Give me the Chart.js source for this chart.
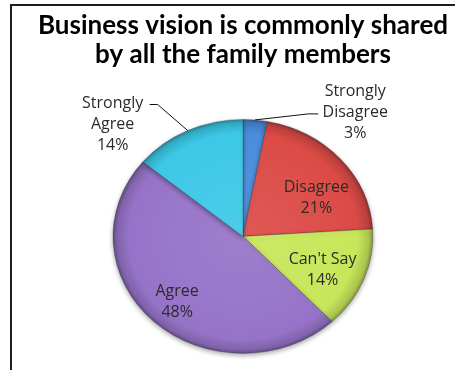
<!DOCTYPE html>
<html>
<head>
<meta charset="utf-8">
<script src="https://cdn.jsdelivr.net/npm/chart.js@4"></script>
<style>
  html, body { margin: 0; padding: 0; background: #fff; }
  #wrap { position: relative; width: 455px; height: 370px; overflow: hidden; }
  #frame { position: absolute; left: 10px; top: 4px; width: 600px; height: 600px;
           border-left: 2px solid #1e1e1e; border-top: 2px solid #1e1e1e; }
  canvas { position: absolute; left: 0; top: 0; }
</style>
</head>
<body>
<div id="wrap">
  <div id="frame"></div>
  <canvas id="pie" width="455" height="370"></canvas>
</div>
<script>
// survey answers, clockwise from 12 o'clock
var answers = ['Strongly Disagree', 'Disagree', "Can't Say", 'Agree', 'Strongly Agree'];
var shares = [3, 21, 14, 48, 14];
var labelLines = [['Strongly', 'Disagree'], ['Disagree'], ["Can't Say"], ['Agree'], ['Strongly', 'Agree']];

var sliceColors = ['#4a8ddc', '#dc4b46', '#c8e65a', '#9673c8', '#3cc8e6'];

// where each label sits: fraction of radius on the mid angle + pixel nudge,
// outside labels get a bent leader line
var labelPlace = [
    { f: 1.0, dx: 100, dy: -7, leader: [[53, -6], [63, -6]] },
    { f: 0.65, dx: 10, dy: 12 },
    { f: 0.65, dx: 1, dy: 6 },
    { f: 0.65, dx: -8, dy: 10 },
    { f: 1.0, dx: -75, dy: -6, leader: [[-30, -26], [-38, -26]] }
];

var TILT = 0.9;   // vertical squash for the tilted look
var LINE_H = 21;

function shade(hex, amt) {
    var n = parseInt(hex.slice(1), 16);
    var r = (n >> 16) & 255, g = (n >> 8) & 255, b = n & 255;
    function f(c) {
        return Math.round(amt >= 0 ? c + (255 - c) * amt : c * (1 + amt));
    }
    return 'rgb(' + f(r) + ',' + f(g) + ',' + f(b) + ')';
}

function sliceFill(ctx) {
    var base = sliceColors[ctx.dataIndex];
    var el = ctx.element;
    if (!el || !el.outerRadius) return base;
    var c = ctx.chart.ctx;
    var g = c.createRadialGradient(el.x, el.y, 0, el.x, el.y, el.outerRadius);
    g.addColorStop(0, shade(base, 0.08));
    g.addColorStop(0.6, shade(base, 0.03));
    g.addColorStop(0.88, base);
    g.addColorStop(0.97, shade(base, -0.15));
    g.addColorStop(1, shade(base, -0.35));
    return g;
}

// squash the pie vertically and give it a soft drop shadow
var tiltPlugin = {
    id: 'tilt',
    beforeDatasetsDraw: function (chart) {
        var el = chart.getDatasetMeta(0).data[0];
        var ctx = chart.ctx;
        ctx.save();
        ctx.translate(el.x, el.y);
        ctx.scale(1, TILT);
        ctx.translate(-el.x, -el.y);
        ctx.shadowColor = 'rgba(0,0,0,0.35)';
        ctx.shadowBlur = 5;
        ctx.shadowOffsetY = 2;
    },
    afterDatasetsDraw: function (chart) {
        chart.ctx.restore();
    }
};

// category + percent labels, with leader lines for the outside ones
var labelPlugin = {
    id: 'sliceLabels',
    afterDatasetsDraw: function (chart) {
        var ctx = chart.ctx;
        var total = shares.reduce(function (a, b) { return a + b; }, 0);
        chart.getDatasetMeta(0).data.forEach(function (arc, i) {
            var p = arc.getProps(['x', 'y', 'startAngle', 'endAngle', 'outerRadius'], true);
            var mid = (p.startAngle + p.endAngle) / 2;
            var place = labelPlace[i];
            var ax = p.x + Math.cos(mid) * p.outerRadius * place.f;
            var ay = p.y + Math.sin(mid) * p.outerRadius * place.f * TILT;

            if (place.leader) {
                ctx.save();
                ctx.strokeStyle = '#111';
                ctx.lineWidth = 1;
                ctx.beginPath();
                ctx.moveTo(ax, ay);
                place.leader.forEach(function (pt) { ctx.lineTo(ax + pt[0], ay + pt[1]); });
                ctx.stroke();
                ctx.restore();
            }

            var lines = labelLines[i].concat([Math.round(shares[i] / total * 100) + '%']);
            var cx = ax + place.dx;
            var cy = ay + place.dy - (lines.length - 1) * LINE_H / 2;
            ctx.save();
            ctx.font = '16px "Open Sans", sans-serif';
            ctx.fillStyle = '#2b2b2b';
            ctx.textAlign = 'center';
            ctx.textBaseline = 'middle';
            lines.forEach(function (t, k) { ctx.fillText(t, cx, cy + k * LINE_H); });
            ctx.restore();
        });
    }
};

var chart = new Chart(document.getElementById('pie'), {
    type: 'pie',
    data: {
        labels: answers,
        datasets: [{
            data: shares,
            backgroundColor: sliceFill,
            borderColor: 'rgba(40,40,60,0.3)',
            borderWidth: 1
        }]
    },
    options: {
        responsive: false,
        animation: false,
        radius: 130,
        layout: { padding: { left: 31, right: 0, top: 0, bottom: 0 } },
        plugins: {
            legend: { display: false },
            tooltip: { enabled: false },
            title: {
                display: true,
                text: ['Business vision is commonly shared', 'by all the family members'],
                color: '#000',
                font: { family: 'Lato', size: 26, weight: 'bold', lineHeight: 1.13 },
                padding: { top: 11, bottom: 33 }
            }
        }
    },
    plugins: [tiltPlugin, labelPlugin]
});
// second pass so the gradients see the laid-out arc geometry
chart.update();
</script>
</body>
</html>
